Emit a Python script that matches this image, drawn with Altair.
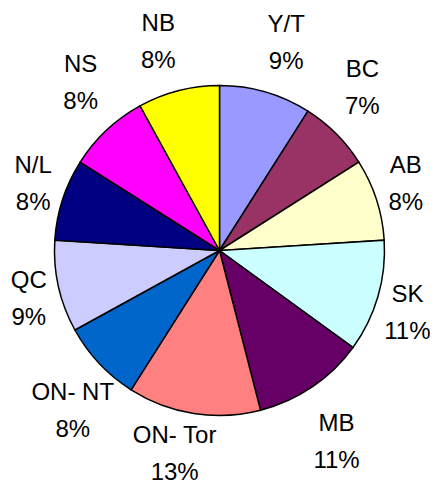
import altair as alt
import pandas as pd

regions = ["Y/T", "BC", "AB", "SK", "MB", "ON- Tor", "ON- NT", "QC", "N/L", "NS", "NB"]
shares = [9, 7, 8, 11, 11, 13, 8, 9, 8, 8, 8]
colors = ["#9999FF", "#993366", "#FFFFCC", "#CCFFFF", "#660066", "#FF8080",
          "#0066CC", "#CCCCFF", "#000080", "#FF00FF", "#FFFF00"]

df = pd.DataFrame({"region": regions, "share": shares, "order": list(range(len(regions)))})
df["label"] = df["region"] + "\n" + df["share"].astype(str) + "%"

W, H = 422, 474
CX, CY = 211.5, 242.5
R = 165
LH = 37

pie = alt.Chart(df).mark_arc(stroke="black", strokeWidth=1.5).encode(
    theta=alt.Theta("share:Q", stack=True),
    order=alt.Order("order:Q"),
    color=alt.Color("region:N", scale=alt.Scale(domain=regions, range=colors), legend=None),
    radius=alt.value(R),
    x=alt.value(CX), y=alt.value(CY),
)

labels = alt.Chart(df).transform_joinaggregate(
    total="sum(share)"
).transform_window(
    cum="sum(share)", sort=[alt.SortField("order")], frame=[None, 0]
).transform_calculate(
    mid="(datum.cum - datum.share/2)/datum.total*2*PI"
).transform_calculate(
    s="sin(datum.mid)", c="cos(datum.mid)"
).transform_calculate(
    px=f"{CX} + 178*datum.s + (datum.s > 0 ? 17 : -17)",
    yc=f"min({CY} - datum.c*(212 + 80*datum.s*datum.s*datum.c*datum.c), {H - 30})",
).transform_calculate(
    py=f"datum.yc - {LH/2} + 2"
).mark_text(
    font="Liberation Sans", fontSize=24, lineBreak="\n", lineHeight=LH,
    align="center", baseline="middle", color="black"
).encode(
    text="label:N",
    x=alt.X("px:Q", scale=None, axis=None),
    y=alt.Y("py:Q", scale=None, axis=None),
)

chart = (pie + labels).properties(
    width=W, height=H, padding=0, autosize="none"
).configure_view(stroke=None)

chart.save("out.html", embed_options={"renderer": "svg", "actions": False})
